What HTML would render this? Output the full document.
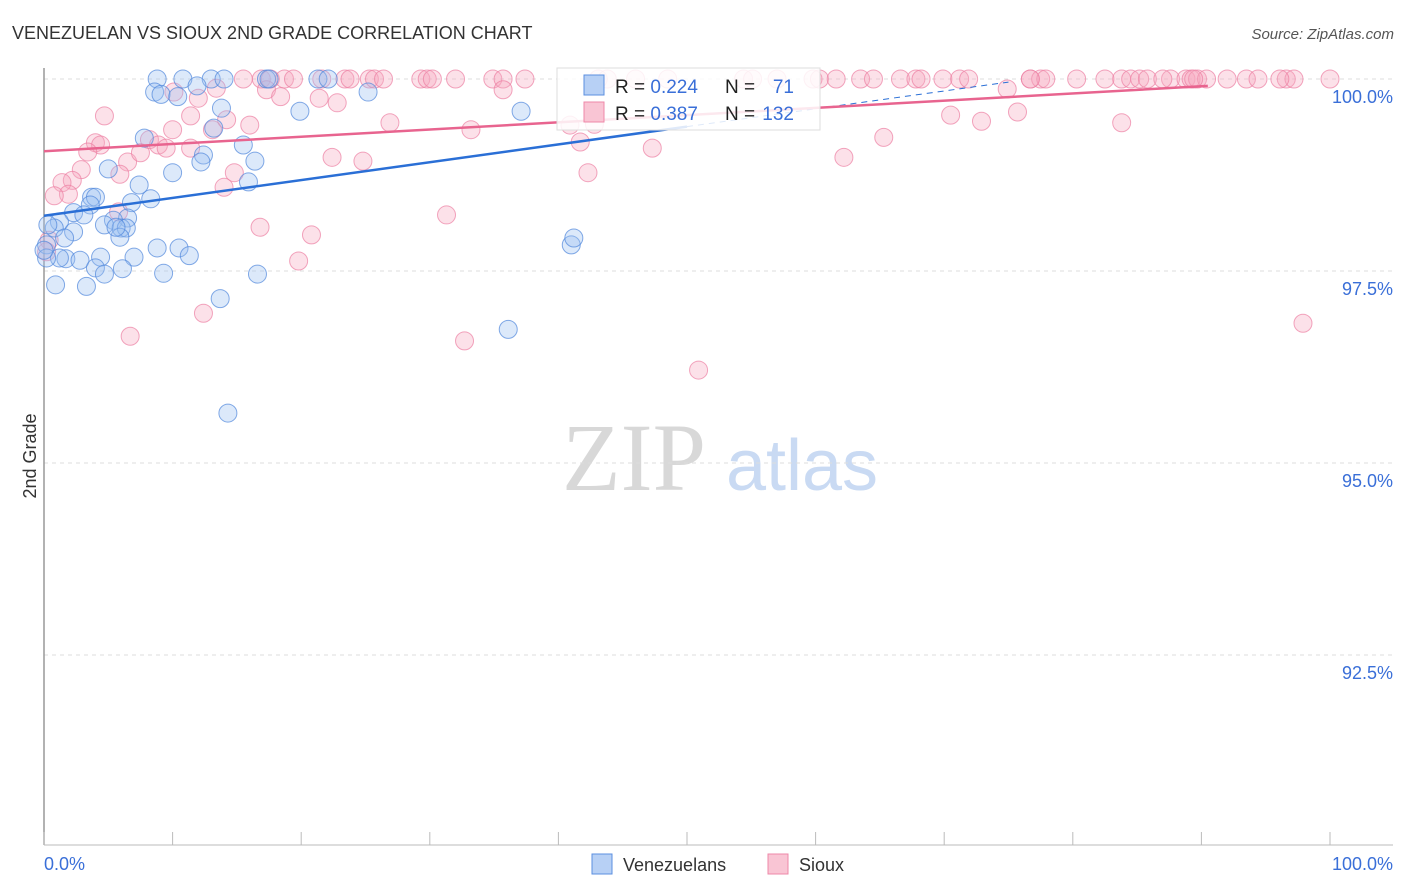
<!DOCTYPE html>
<html><head><meta charset="utf-8">
<style>
body{margin:0;background:#fff;font-family:"Liberation Sans",sans-serif;}
#wrap{position:relative;width:1406px;height:892px;overflow:hidden;}
</style></head>
<body>
<div id="wrap">
<svg id="chart" width="1406" height="892" xmlns="http://www.w3.org/2000/svg">
<text x="12" y="39" font-size="18" fill="#333">VENEZUELAN VS SIOUX 2ND GRADE CORRELATION CHART</text>
<text x="1394" y="39" font-size="15" fill="#555" text-anchor="end" font-style="italic">Source: ZipAtlas.com</text>
<text x="36" y="456" font-size="18" fill="#333" text-anchor="middle" transform="rotate(-90 36 456)">2nd Grade</text>
<g>
<text x="634" y="490" font-size="96" fill="#d8d8d8" text-anchor="middle" font-family="Liberation Serif,serif">ZIP</text>
<text x="802" y="490" font-size="72" fill="#c9daf3" text-anchor="middle">atlas</text>
</g>
<g id="grid"></g>
<g id="axes"></g>
<g id="pts"></g>
<g id="lines"></g>
<g>
<rect x="557" y="68" width="263" height="62" fill="#fff" fill-opacity="0.85" stroke="#ddd"/>
<rect x="584" y="75" width="20" height="20" fill="#b7d0f5" stroke="#5b8fe0"/>
<text x="615" y="93" font-size="19" fill="#222">R = <tspan fill="#3a6fd8">0.224</tspan></text>
<text x="725" y="93" font-size="19" fill="#222">N = </text>
<text x="794" y="93" font-size="19" fill="#3a6fd8" text-anchor="end">71</text>
<rect x="584" y="102" width="20" height="20" fill="#f9c5d4" stroke="#ee88a8"/>
<text x="615" y="120" font-size="19" fill="#222">R = <tspan fill="#3a6fd8">0.387</tspan></text>
<text x="725" y="120" font-size="19" fill="#222">N = </text>
<text x="794" y="120" font-size="19" fill="#3a6fd8" text-anchor="end">132</text>
</g>
<g>
<rect x="592" y="854" width="20" height="20" fill="#b7d0f5" stroke="#5b8fe0"/>
<text x="623" y="871" font-size="18" fill="#333">Venezuelans</text>
<rect x="768" y="854" width="20" height="20" fill="#f9c5d4" stroke="#ee88a8"/>
<text x="799" y="871" font-size="18" fill="#333">Sioux</text>
</g>
</svg>
</div>
<script>
const yTicks=[100,97.5,95,92.5];
const yTickLabels=["100.0%","97.5%","95.0%","92.5%"];
const xTickVals=[0,10,20,30,40,50,60,70,80,90,100];
const xEndLabels=["0.0%","100.0%"];
const blueX=[8.8,10.8,13.0,14.0,17.3,17.5,21.3,22.1,8.6,9.1,10.4,11.9,13.8,19.9,25.2,37.1,7.8,13.2,15.5,12.4,12.2,16.4,5.0,7.4,15.9,10.0,3.7,8.3,4.0,6.8,3.6,2.3,3.1,6.5,1.2,5.4,0.8,0.3,4.7,6.0,6.4,2.3,1.6,0.2,5.9,5.6,8.8,10.5,11.3,7.0,4.4,1.7,1.2,2.8,4.0,6.1,4.7,9.3,16.6,0.9,3.3,13.7,36.1,14.3,41.0,41.2,0.2,0.0];
const blueY=[100,100,100,100,100,100,100,100,99.83,99.80,99.77,99.91,99.62,99.58,99.83,99.58,99.23,99.36,99.14,99.01,98.92,98.93,98.83,98.62,98.66,98.78,98.46,98.44,98.46,98.39,98.36,98.26,98.23,98.19,98.14,98.16,98.06,98.10,98.10,98.06,98.06,98.01,97.93,97.84,97.94,98.07,97.80,97.80,97.70,97.68,97.68,97.66,97.67,97.64,97.54,97.53,97.46,97.47,97.46,97.32,97.30,97.14,96.74,95.65,97.84,97.93,97.67,97.77];
const pinkX=[15.5,16.9,17.6,18.7,19.4,21.6,23.4,23.8,25.3,25.7,26.4,29.3,29.8,30.2,32.0,34.9,35.7,37.4,43.1,43.8,54.4,55.1,59.8,60.3,61.6,63.5,64.5,66.6,67.8,68.2,69.9,71.2,71.9,76.7,77.5,77.9,80.3,82.5,83.8,84.5,85.2,85.8,87.6,88.8,89.2,89.7,90.4,92.0,93.5,94.4,96.6,97.2,100,96.1,89.4,87.0,76.7,46.0,48.5,57.0,
10.1,13.4,17.3,18.4,21.4,22.8,35.7,4.7,12.0,74.9,70.5,72.9,75.7,83.8,26.9,13.1,10.0,14.2,16.0,11.4,8.2,4.0,4.4,3.4,11.4,8.9,9.5,6.5,7.5,2.9,5.9,2.2,1.4,1.9,0.8,14.0,16.8,14.8,22.4,24.8,20.8,19.8,31.3,41.7,42.3,47.3,62.2,65.3,40.9,6.7,12.4,32.7,50.9,97.9,0.4,0.2,5.8,33.2,42.8];
const pinkY=[100,100,100,100,100,100,100,100,100,100,100,100,100,100,100,100,100,100,100,100,100,100,100,100,100,100,100,100,100,100,100,100,100,100,100,100,100,100,100,100,100,100,100,100,100,100,100,100,100,100,100,100,100,100,100,100,100,100,100,100,
99.83,99.88,99.86,99.77,99.75,99.69,99.86,99.52,99.75,99.87,99.53,99.45,99.57,99.43,99.43,99.34,99.34,99.47,99.40,99.52,99.21,99.17,99.14,99.05,99.10,99.14,99.10,98.92,99.04,98.82,98.76,98.68,98.65,98.50,98.48,98.59,98.07,98.78,98.98,98.93,97.97,97.63,98.23,99.18,98.78,99.10,98.98,99.24,99.40,96.65,96.95,96.59,96.21,96.82,97.90,97.75,98.27,99.34,99.41];
const blueTrend=[98.22,0.0232];  // intercept, slope per %
const pinkTrend=[99.06,0.0094];
const NS="http://www.w3.org/2000/svg";
const X0=44,X1=1330,YT=79,PXPER=76.8;
function sx(v){return X0+(v/100)*(X1-X0);}
function sy(v){return YT+(100-v)*PXPER/1;}
function el(tag,attrs,parent){const e=document.createElementNS(NS,tag);for(const k in attrs)e.setAttribute(k,attrs[k]);parent.appendChild(e);return e;}
const grid=document.getElementById('grid'),axes=document.getElementById('axes'),pts=document.getElementById('pts'),lines=document.getElementById('lines');
yTicks.forEach((t,i)=>{
 const l=el('line',{x1:44,x2:1393,y1:sy(t),y2:sy(t),stroke:'#ddd','stroke-dasharray':'4 4'},grid);
 
 
 const tx=el('text',{x:1393,y:sy(t)+24,'font-size':18,fill:'#3a6fd8','text-anchor':'end'},axes);
 tx.textContent=yTickLabels[i];
 
 
});
const ya=el('line',{x1:44,x2:44,y1:68,y2:845,stroke:'#999','stroke-width':1.5},axes);


const xa=el('line',{x1:44,x2:1393,y1:845,y2:845,stroke:'#bbb'},axes);


xTickVals.forEach(v=>{
 const t=el('line',{x1:sx(v),x2:sx(v),y1:832,y2:845,stroke:'#bbb'},axes);
 
 
});
const xl0=el('text',{x:44,y:870,'font-size':18,fill:'#3a6fd8'},axes);xl0.textContent=xEndLabels[0];


const xl1=el('text',{x:1393,y:870,'font-size':18,fill:'#3a6fd8','text-anchor':'end'},axes);xl1.textContent=xEndLabels[1];


function drawPts(xs,ys,fill,stroke,name){
 xs.forEach((x,i)=>{
  const c=el('circle',{cx:sx(x),cy:sy(ys[i]),r:9,fill:fill,'fill-opacity':0.35,stroke:stroke,'stroke-opacity':0.7,'stroke-width':1},pts);
  
  
 });
}
drawPts(pinkX,pinkY,'#f7a8c0','#ec7fa3','sioux-point');
drawPts(blueX,blueY,'#9cc0f0','#4f86dc','venezuelan-point');
function trend(tr,x0,x1,col,dash,name){
 const l=el('line',{x1:sx(x0),y1:sy(tr[0]+tr[1]*x0),x2:sx(x1),y2:sy(tr[0]+tr[1]*x1),stroke:col,'stroke-width':dash?1:2.5},lines);
 if(dash)l.setAttribute('stroke-dasharray','6 5');
 
 
}
trend(blueTrend,0,50,'#2a6fd6',false,'venezuelan-trend-line');
trend(blueTrend,50,75,'#2a6fd6',true,'venezuelan-trend-extension');
trend(pinkTrend,0,90.5,'#e8648f',false,'sioux-trend-line');
</script>
</body></html>
